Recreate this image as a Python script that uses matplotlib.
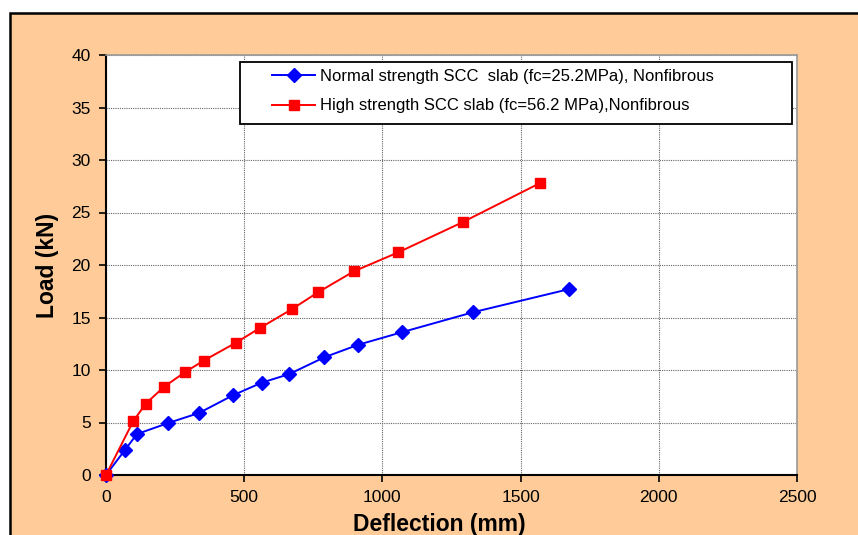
import matplotlib.pyplot as plt
from matplotlib.patches import Rectangle

plt.rcParams['font.family'] = ['Liberation Sans', 'DejaVu Sans']

# normal strength SCC slab
defl_normal = [0, 69, 112, 225, 336, 460, 564, 662, 789, 912, 1071, 1328, 1675]
load_normal = [0, 2.4, 3.9, 4.95, 5.9, 7.6, 8.8, 9.6, 11.2, 12.4, 13.6, 15.5, 17.7]

# high strength SCC slab
defl_high = [0, 98, 144, 210, 286, 354, 470, 557, 673, 767, 897, 1057, 1292, 1570]
load_high = [0, 5.1, 6.8, 8.4, 9.8, 10.9, 12.6, 14.0, 15.8, 17.4, 19.4, 21.2, 24.1, 27.8]

label_normal = 'Normal strength SCC  slab (fc=25.2MPa), Nonfibrous'
label_high = 'High strength SCC slab (fc=56.2 MPa),Nonfibrous'

fig = plt.figure(figsize=(8.58, 5.35), dpi=100)
fig.patch.set_facecolor('white')

# peach chart frame, cut off at the right and bottom edge
fig.patches.append(Rectangle((10 / 858, -0.05), 1.0, 1 - 13 / 535 + 0.05,
                             transform=fig.transFigure, facecolor='#FFCC99',
                             edgecolor='black', linewidth=1.8, zorder=-10))

ax = fig.add_axes([106 / 858, 1 - 475 / 535, 691 / 858, 420 / 535])
ax.set_zorder(1)
ax.set_facecolor('white')

ax.plot(defl_normal, load_normal, color='#0000FF', marker='D', markersize=7,
        linewidth=1.4, label=label_normal, clip_on=False, zorder=3)
ax.plot(defl_high, load_high, color='#FF0000', marker='s', markersize=7.5,
        linewidth=1.4, label=label_high, clip_on=False, zorder=3)

ax.set_xlim(0, 2500)
ax.set_ylim(0, 40)
ax.set_xticks(range(0, 2501, 500))
ax.set_yticks(range(0, 41, 5))
ax.grid(True, color='#666666', linestyle=(0, (1, 1)), linewidth=0.8)

ax.tick_params(direction='out', length=5, width=1.2, labelsize=12.5, pad=6)
for side in ['left', 'bottom']:
    ax.spines[side].set_linewidth(1.5)
    ax.spines[side].set_color('black')
for side in ['top', 'right']:
    ax.spines[side].set_linewidth(1.2)
    ax.spines[side].set_color('#999999')

ax.set_xlabel('Deflection (mm)', fontsize=16.5, fontweight='bold')
ax.xaxis.set_label_coords(0.483, -0.09)
ax.set_ylabel('Load (kN)', fontsize=16.5, fontweight='bold', labelpad=9)

# Excel-style legend: wide box with the entries set in from the left
ax.add_patch(Rectangle((0.194, 0.836), 0.799, 0.147, transform=ax.transAxes,
                       facecolor='white', edgecolor='black', linewidth=1.3,
                       zorder=4, clip_on=False))
leg = ax.legend(loc='upper left', bbox_to_anchor=(0.240, 0.966), fontsize=12,
                frameon=False, borderpad=0, borderaxespad=0,
                handlelength=2.6, handletextpad=0.3, labelspacing=0.85)
leg.set_zorder(5)

plt.savefig('out.png', dpi=100)
plt.close()
